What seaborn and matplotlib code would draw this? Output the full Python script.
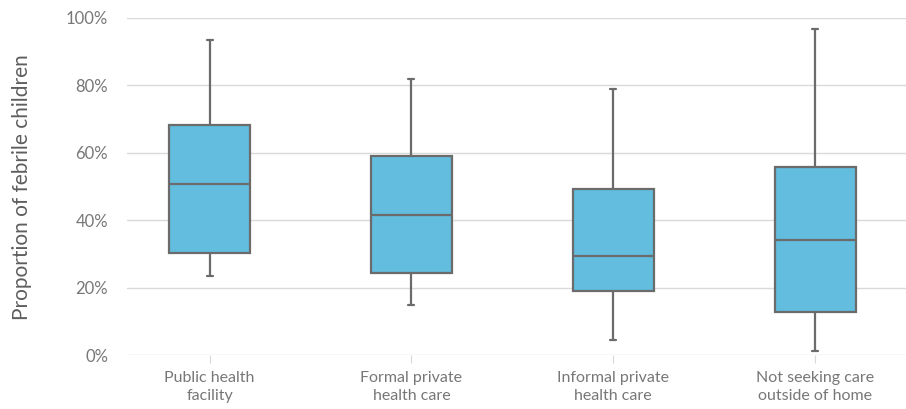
import matplotlib.pyplot as plt
import matplotlib.ticker as mticker
import seaborn as sns
import pandas as pd

# five-number summaries (min, q1, median, q3, max), in %
categories = ['Public health\nfacility', 'Formal private\nhealth care',
              'Informal private\nhealth care', 'Not seeking care\noutside of home']
public_health = [23.6, 30.4, 50.8, 68.3, 93.6]
formal_private = [14.8, 24.5, 41.7, 59.1, 82.0]
informal_private = [4.6, 19.1, 29.5, 49.4, 78.9]
no_care = [1.2, 12.9, 34.2, 55.9, 96.6]

series = [public_health, formal_private, informal_private, no_care]
df = pd.DataFrame({
    'category': [c for c, vals in zip(categories, series) for _ in vals],
    'value': [v for vals in series for v in vals],
})

sns.set_style('white')
plt.rcParams['font.family'] = ['Lato', 'DejaVu Sans']

grey = '#6b6b6b'
text_grey = '#777777'

fig = plt.figure(figsize=(9.06, 4.09), dpi=100)
ax = fig.add_axes([0.140, 0.131, 0.860, 0.825])

sns.boxplot(data=df, x='category', y='value', order=categories, ax=ax,
            color='#62BDDF', saturation=1, width=0.4, whis=(0, 100),
            linecolor=grey, linewidth=1.6, capwidths=0.03, showfliers=False)

ax.set_ylim(0, 100)
ax.set_xlim(-0.41, 3.45)
ax.yaxis.set_major_locator(mticker.MultipleLocator(20))
ax.yaxis.set_major_formatter(mticker.PercentFormatter(decimals=0))
ax.grid(axis='y', color='#d9d9d9', linewidth=1)
ax.set_axisbelow(True)
ax.spines[['left', 'right', 'top', 'bottom']].set_visible(False)

ax.tick_params(axis='y', left=False, labelsize=12, labelcolor=text_grey, pad=10)
ax.tick_params(axis='x', bottom=True, length=6, color='#d9d9d9', labelsize=11.5,
               labelcolor=text_grey, pad=5)
for lbl in ax.get_xticklabels():
    lbl.set_linespacing(1.35)

ax.set_xlabel('')
ax.set_ylabel('Proportion of febrile children', fontsize=15, color='#5e5e5e')
ax.yaxis.set_label_coords(-0.122, 0.5)

fig.savefig('out.png', dpi=100)
